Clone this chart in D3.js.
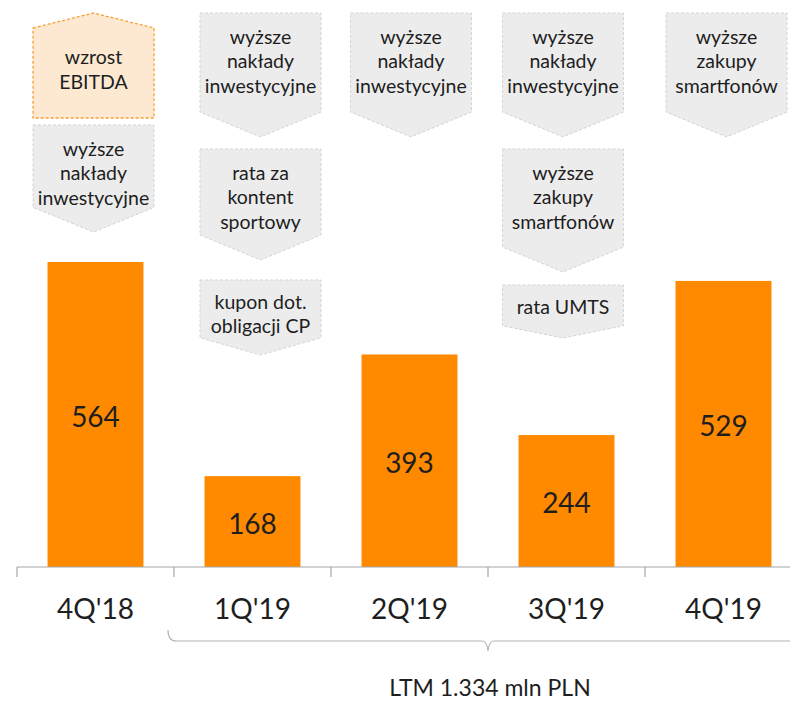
<!DOCTYPE html>
<html>
<head>
<meta charset="utf-8">
<script src="https://cdn.jsdelivr.net/npm/d3@7"></script>
<style>
  html, body { margin: 0; padding: 0; background: #fff; }
  svg { display: block; }
  text { font-family: Lato, "Open Sans", sans-serif; fill: #1e1e1e; }
</style>
</head>
<body>
<svg id="chart" width="790" height="701"></svg>
<script>
// ---- data ----
const categories = ["4Q'18", "1Q'19", "2Q'19", "3Q'19", "4Q'19"];
const values = [564, 168, 393, 244, 529];
const ltmLabel = "LTM 1.334 mln PLN";
// upward driver (positive) per category
const upDrivers = [["wzrost", "EBITDA"], null, null, null, null];
// downward drivers (negative) per category
const downDrivers = [
  [["wyższe", "nakłady", "inwestycyjne"]],
  [["wyższe", "nakłady", "inwestycyjne"], ["rata za", "kontent", "sportowy"], ["kupon dot.", "obligacji CP"]],
  [["wyższe", "nakłady", "inwestycyjne"]],
  [["wyższe", "nakłady", "inwestycyjne"], ["wyższe", "zakupy", "smartfonów"], ["rata UMTS"]],
  [["wyższe", "zakupy", "smartfonów"]]
];

// ---- layout ----
const svg = d3.select("#chart");
const baseY = 567;
const x = d3.scaleBand().domain(categories).range([17, 802])
  .paddingInner(0.389).paddingOuter(0.1945);
const step = x.step();
const y = d3.scaleLinear().domain([0, 564]).range([baseY, 262]);

const orange = "#ff8a00";
const boxW = 121;
const boxOffset = [-2, 8, 1.5, -3.5, 3];
// box vertical extents [top, tip] per category / box index
const downBoxY = [
  [[125, 232]],
  [[13, 137], [149, 260], [280, 355]],
  [[13, 137]],
  [[13, 137], [149, 272], [285, 338]],
  [[13, 137]]
];
const upBoxY = [[13, 118], null, null, null, null];

const bandCenter = c => x(c) + x.bandwidth() / 2;

// ---- callouts ----
const calloutG = svg.append("g");
categories.forEach((c, i) => {
  const cx = bandCenter(c) + boxOffset[i];
  const x0 = cx - boxW / 2, x1 = cx + boxW / 2;
  if (upDrivers[i]) {
    const [top, bottom] = upBoxY[i];
    const shoulder = top + 15;
    calloutG.append("path")
      .attr("d", `M${x0},${shoulder} L${cx},${top} L${x1},${shoulder} L${x1},${bottom} L${x0},${bottom} Z`)
      .attr("fill", "#fde9d2").attr("stroke", "#f7a035")
      .attr("stroke-width", 1.3).attr("stroke-dasharray", "3,2");
    const lines = upDrivers[i];
    const mid = (shoulder + bottom) / 2 - 4;
    lines.forEach((ln, k) => {
      calloutG.append("text").attr("x", cx)
        .attr("y", mid + (k - (lines.length - 1) / 2) * 25)
        .attr("text-anchor", "middle").attr("dominant-baseline", "central")
        .attr("font-size", 19.5).text(ln);
    });
  }
  downDrivers[i].forEach((lines, b) => {
    const [top, tip] = downBoxY[i][b];
    const h = tip - top;
    const depth = Math.min(25, 0.23 * h);
    const shoulder = tip - depth;
    calloutG.append("path")
      .attr("d", `M${x0},${top} L${x1},${top} L${x1},${shoulder} L${cx},${tip} L${x0},${shoulder} Z`)
      .attr("fill", "#ececec").attr("stroke", "#d4d4d4")
      .attr("stroke-width", 1).attr("stroke-dasharray", "3,2");
    const first = top + (lines.length >= 3 ? 23 : 21);
    lines.forEach((ln, k) => {
      calloutG.append("text").attr("x", cx).attr("y", first + k * 24.5)
        .attr("text-anchor", "middle").attr("dominant-baseline", "central")
        .attr("font-size", 19.5).text(ln);
    });
  });
});

// ---- bars ----
svg.append("g").selectAll("rect").data(values).join("rect")
  .attr("x", (d, i) => x(categories[i]))
  .attr("y", d => y(d))
  .attr("width", x.bandwidth())
  .attr("height", d => baseY - y(d))
  .attr("fill", orange);

svg.append("g").selectAll("text").data(values).join("text")
  .attr("x", (d, i) => bandCenter(categories[i]))
  .attr("y", d => (y(d) + baseY) / 2 + 1)
  .attr("text-anchor", "middle").attr("dominant-baseline", "central")
  .attr("font-size", 28).text(d => d);

// ---- axis ----
const axisG = svg.append("g").attr("transform", `translate(0,${baseY})`);
const xAxis = d3.axisBottom(x).tickSize(0).tickPadding(0);
axisG.call(xAxis);
axisG.select(".domain").remove();
axisG.selectAll(".tick line").remove();
axisG.selectAll(".tick text")
  .attr("y", 41).attr("dy", null)
  .attr("dominant-baseline", "central")
  .attr("font-size", 28)
  .attr("font-family", "Lato, 'Open Sans', sans-serif")
  .attr("fill", "#1e1e1e");

const sepX = categories.map(c => x(c) - (step - x.bandwidth()) / 2);
axisG.append("line").attr("x1", sepX[0]).attr("x2", 790)
  .attr("y1", 0).attr("y2", 0).attr("stroke", "#a6a6a6").attr("stroke-width", 1.2);
axisG.selectAll(".sep").data(sepX).join("line").attr("class", "sep")
  .attr("x1", d => d).attr("x2", d => d).attr("y1", 0).attr("y2", 10)
  .attr("stroke", "#a6a6a6").attr("stroke-width", 1.2);

// ---- LTM brace ----
const bx0 = sepX[1] - 6;
const bTip = (bandCenter(categories[2]) + bandCenter(categories[3])) / 2;
const by = 641;
svg.append("path")
  .attr("d", `M${bx0},${by - 11} Q${bx0},${by} ${bx0 + 8},${by} L${bTip - 6},${by} Q${bTip - 1},${by} ${bTip},${by + 10} Q${bTip + 1},${by} ${bTip + 6},${by} L790,${by}`)
  .attr("fill", "none").attr("stroke", "#b4b4b4").attr("stroke-width", 1.2);

svg.append("text").attr("x", bTip + 2).attr("y", 687)
  .attr("text-anchor", "middle").attr("dominant-baseline", "central")
  .attr("font-size", 23).text(ltmLabel);
</script>
</body>
</html>
